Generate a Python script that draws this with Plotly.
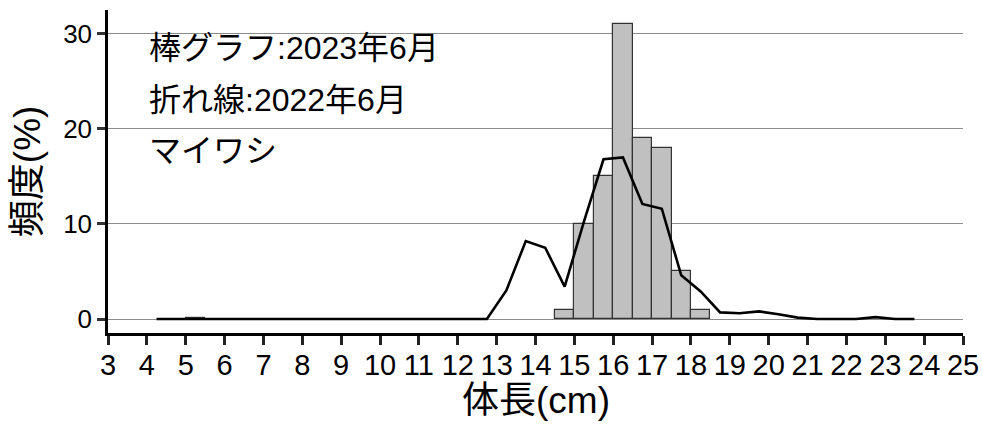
import plotly.graph_objects as go

# Bar chart: 2023年6月 (class midpoints, 0.5 cm classes)
bar_x = [5.25, 14.75, 15.25, 15.75, 16.25, 16.75, 17.25, 17.75, 18.25]
bar_y = [0.1, 1.0, 10.0, 15.0, 31.0, 19.0, 18.0, 5.0, 1.0]

# Line chart: 2022年6月
line_x = [4.25, 4.75, 5.25, 5.75, 6.25, 6.75, 7.25, 7.75, 8.25, 8.75,
          9.25, 9.75, 10.25, 10.75, 11.25, 11.75, 12.25, 12.75, 13.25, 13.75,
          14.25, 14.75, 15.25, 15.75, 16.25, 16.75, 17.25, 17.75, 18.25, 18.75,
          19.25, 19.75, 20.25, 20.75, 21.25, 21.75, 22.25, 22.75, 23.25, 23.75]
line_y = [0, 0, 0, 0, 0, 0, 0, 0, 0, 0,
          0, 0, 0, 0, 0, 0, 0, 0, 3.0, 8.2,
          7.5, 3.4, 10.3, 16.8, 17.0, 12.1, 11.6, 4.6, 2.9, 0.7,
          0.6, 0.8, 0.5, 0.15, 0, 0, 0, 0.2, 0, 0]

x_ticks = list(range(3, 26))
y_ticks = [0, 10, 20, 30]
labels = ["棒グラフ:2023年6月", "折れ線:2022年6月", "マイワシ"]
label_y = [28.5, 23.0, 17.7]
x_title = "体長(cm)"
y_title = "頻度(%)"

FONT = "Liberation Sans, Arial, Noto Sans CJK JP, sans-serif"

fig = go.Figure()
fig.add_trace(go.Bar(
    x=bar_x, y=bar_y, width=0.5,
    marker=dict(color="#c0c0c0", line=dict(color="#333333", width=1.2)),
    showlegend=False,
))
fig.add_trace(go.Scatter(
    x=line_x, y=line_y, mode="lines",
    line=dict(color="black", width=2.6),
    showlegend=False,
))

for t, yy in zip(labels, label_y):
    fig.add_annotation(x=4.0, y=yy, xref="x", yref="y", text=t, showarrow=False,
                       xanchor="left", yanchor="middle",
                       font=dict(size=32, color="black", family=FONT))

fig.add_annotation(x=0.5, y=-0.21, xref="paper", yref="paper", text=x_title,
                   showarrow=False, xanchor="center", yanchor="middle",
                   font=dict(size=37, color="black", family=FONT))
fig.add_annotation(x=-0.094, y=0.5, xref="paper", yref="paper", text=y_title,
                   showarrow=False, xanchor="center", yanchor="middle", textangle=-90,
                   font=dict(size=37, color="black", family=FONT))

fig.update_layout(
    width=982, height=425,
    margin=dict(l=108, r=19, t=10, b=92),
    plot_bgcolor="white", paper_bgcolor="white",
    font=dict(family=FONT, color="black"),
    bargap=0,
)
fig.update_xaxes(
    range=[3, 25], tickvals=x_ticks, ticktext=[str(v) for v in x_ticks],
    showline=True, linecolor="black", linewidth=2.5,
    ticks="outside", ticklen=9, tickwidth=2.5, tickcolor="#222222",
    showgrid=False, zeroline=False, automargin=False,
    ticklabelstandoff=-5,
    tickfont=dict(size=29, family=FONT),
)
fig.update_yaxes(
    range=[-1.47, 32.5], tickvals=y_ticks, ticktext=[str(v) for v in y_ticks],
    showline=True, linecolor="black", linewidth=2.5,
    ticks="outside", ticklen=8, tickwidth=2.5, tickcolor="#333333",
    showgrid=True, gridcolor="#8c8c8c", gridwidth=1,
    zeroline=False, automargin=False,
    tickfont=dict(size=26, family=FONT),
)

fig.write_html("out.html",
               config={"displayModeBar": False},
               post_script="document.body.style.margin='0';document.body.style.overflow='hidden';")
